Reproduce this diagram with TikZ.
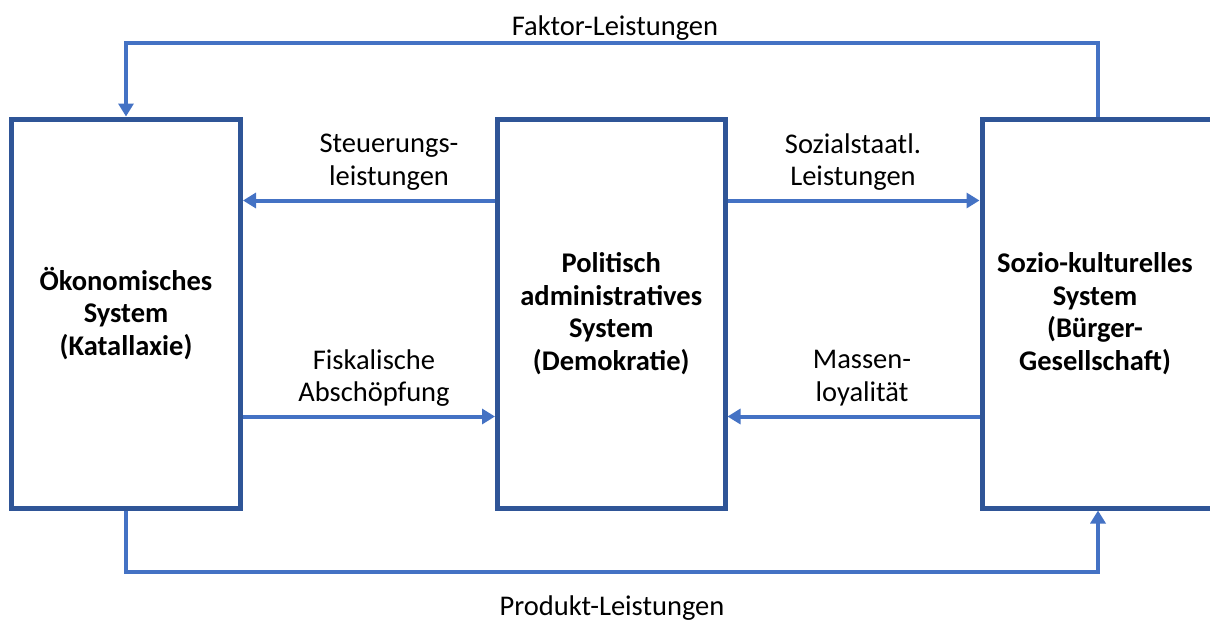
\documentclass[tikz,border=0pt]{standalone}
\usepackage{fontspec}
\setmainfont{Carlito}
\usetikzlibrary{arrows.meta}
\definecolor{boxblue}{HTML}{2F5597}
\definecolor{arrblue}{HTML}{4472C4}
\tikzset{
  sysbox/.style={draw=boxblue, line width=5pt, rectangle, inner sep=0pt,
    minimum height=389pt, align=center, font=\fontsize{28.5}{32.5}\selectfont\bfseries},
  arr/.style={draw=arrblue, line width=4pt,
    -{Triangle[length=13pt,width=15pt]}},
  lbl/.style={align=center, inner sep=0pt, font=\fontsize{28.5}{32.5}\selectfont}
}
\begin{document}
\begin{tikzpicture}[x=1pt,y=-1pt]
\useasboundingbox (0,0) rectangle (1210,621);
% boxes
\node[sysbox, minimum width=229pt] (L) at (126,313.5) {Ökonomisches\\System\\(Katallaxie)};
\node[sysbox, minimum width=227.5pt] (M) at (611.25,313.5) {Politisch\\administratives\\System\\(Demokratie)};
\node[sysbox, minimum width=232pt] (R) at (1098,313.5) {};
\node[lbl, font=\fontsize{28.5}{32.5}\selectfont\bfseries] (Rt) at (1095,313.5) {Sozio-kulturelles\\System\\(Bürger-\\Gesellschaft)};
% helper coordinates
\coordinate (yu) at (0,200.5);
\coordinate (yl) at (0,416.5);
\coordinate (top) at (0,43);
\coordinate (bot) at (0,572);
% outer loops
\draw[arr] (R.north) |- (top -| L.north) -- (L.north);
\draw[arr] (L.south) |- (bot -| R.south) -- (R.south);
% horizontal arrows
\draw[arr] (M.west |- yu) -- (L.east |- yu);
\draw[arr] (M.east |- yu) -- (R.west |- yu);
\draw[arr] (L.east |- yl) -- (M.west |- yl);
\draw[arr] (R.west |- yl) -- (M.east |- yl);
% labels
\node[lbl, anchor=base] (fl) at (615,35) {Faktor-Leistungen};
\node[lbl, anchor=base] (pl) at (612,615) {Produkt-Leistungen};
\node[lbl] (st) at (389,162) {Steuerungs-\\leistungen};
\node[lbl] (so) at (853,162) {Sozialstaatl.\\Leistungen};
\node[lbl] (fi) at (374,378) {Fiskalische\\Abschöpfung};
\node[lbl] (ma) at (862,378) {Massen-\\loyalität};
\end{tikzpicture}
\end{document}
